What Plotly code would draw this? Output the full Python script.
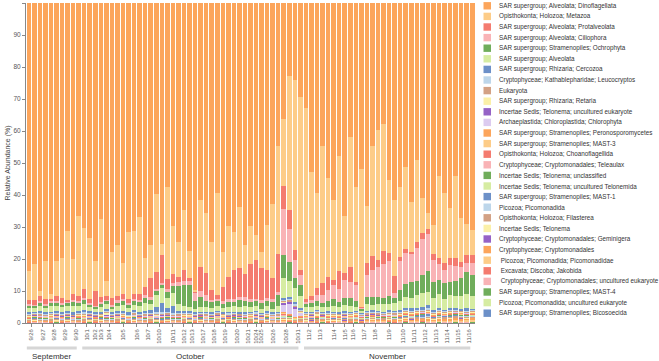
import plotly.graph_objects as go

# ---------------- data ----------------
dates = ["9/26", "9/27", "9/28", "9/29", "9/30", "10/1", "10/2", "10/3", "10/4", "10/5",
         "10/6", "10/7", "10/10", "10/11", "10/12", "10/13", "10/17", "10/18", "10/19", "10/20",
         "10/21", "10/24", "10/25", "10/26", "10/28", "10/31", "11/2", "11/3", "11/4", "11/5",
         "11/6", "11/7", "11/8", "11/9", "11/10", "11/11", "11/12", "11/13", "11/14", "11/15", "11/16"]
bars_per_date = [2, 2, 2, 2, 2, 2, 1, 1, 2, 3,
                 2, 2, 2, 3, 1, 2, 2, 2, 2, 2,
                 2, 1, 1, 3, 2, 2, 2, 2, 3, 1,
                 2, 2, 2, 3, 2, 2, 2, 2, 2, 2, 2]
month_names = {"9": "September", "10": "October", "11": "November"}

taxa = [
    "SAR supergroup; Alveolata; Dinoflagellata",
    "Opisthokonta; Holozoa; Metazoa",
    "SAR supergroup; Alveolata; Protalveolata",
    "SAR supergroup; Alveolata; Ciliophora",
    "SAR supergroup; Stramenopiles; Ochrophyta",
    "SAR supergroup; Alveolata",
    "SAR supergroup; Rhizaria; Cercozoa",
    "Cryptophyceae; Kathablepharidae; Leucocryptos",
    "Eukaryota",
    "SAR supergroup; Rhizaria; Retaria",
    "Incertae Sedis; Telonema; uncultured eukaryote",
    "Archaeplastida; Chloroplastida; Chlorophyta",
    "SAR supergroup; Stramenopiles; Peronosporomycetes",
    "SAR supergroup; Stramenopiles; MAST-3",
    "Opisthokonta; Holozoa; Choanoflagellida",
    "Cryptophyceae; Cryptomonadales; Teleaulax",
    "Incertae Sedis; Telonema; unclassified",
    "Incertae Sedis; Telonema; uncultured Telonemida",
    "SAR supergroup; Stramenopiles; MAST-1",
    "Picozoa; Picomonadida",
    "Opisthokonta; Holozoa; Filasterea",
    "Incertae Sedis; Telonema",
    "Cryptophyceae; Cryptomonadales; Geminigera",
    "Cryptophyceae; Cryptomonadales",
    "\u00a0Picozoa; Picomonadida; Picomonadidae",
    "\u00a0Excavata; Discoba; Jakobida",
    "\u00a0Cryptophyceae; Cryptomonadales; uncultured eukaryote",
    "SAR supergroup; Stramenopiles; MAST-4",
    "Picozoa; Picomonadida; uncultured eukaryote",
    "SAR supergroup; Stramenopiles; Bicosoecida",
]

dinoflagellata = [84, 82, 90.5, 81, 92, 81, 80, 72, 80, 67,
                  71, 74, 81, 68, 88, 78, 76, 82, 72, 72,
                  67, 80, 76, 60, 76, 58, 70, 75, 65, 78,
                  90, 62, 66, 75, 60, 78, 70, 72, 64, 76,
                  70, 73, 78, 70, 63, 45, 38, 24, 25, 30,
                  33, 53, 60, 45, 55, 62, 48, 67, 42, 58,
                  52, 64, 45, 40, 38, 56, 62, 58, 52, 63,
                  50, 62, 67, 70, 55, 60, 65, 55, 68, 70,
                  72]
metazoa = [9, 11.5, 1.5, 12, 1.5, 11, 12.5, 21.5, 11, 25,
           19, 19, 9.5, 24.5, 5, 14.5, 16, 10, 21, 20,
           24, 9, 10.5, 24.5, 3.5, 29, 15, 11, 19, 8.5,
           0.5, 21, 19, 15, 32, 11, 16, 12, 19, 9,
           12, 8, 5, 14, 23, 34, 22, 44, 55, 55,
           60, 39, 30, 43, 31, 25, 36, 18, 41, 30,
           43.5, 18, 35, 41, 40, 23, 24, 22, 26, 16,
           26, 11, 5, 9, 26, 22, 16, 26, 14, 10,
           8]
protalveolata = [1.2, 1.3, 1.6, 1.4, 0.5, 1.8, 1.7, 0.6, 1.9, 1.8,
                 2.8, 1.3, 4.5, 1.5, 1.0, 2.2, 1.5, 1.5, 1.2, 1.6,
                 2.0, 2.6, 6.1, 5.6, 8.7, 3.2, 2.7, 1.6, 3.2, 1.0,
                 0.3, 7.4, 6.9, 3.0, 1.2, 4.6, 7.1, 9.1, 9.1, 7.3,
                 11.1, 12.1, 10.0, 8.9, 6.7, 11.7, 7.7, 6.3, 3.1, 1.6,
                 0.9, 1.3, 2.3, 3.7, 4.3, 1.7, 5.8, 2.2, 4.7, 1.0,
                 0.2, 3.7, 4.2, 2.2, 4.2, 2.5, 5.5, 1.4, 1.3, 0.5,
                 1.7, 1.9, 1.6, 2.0, 1.9, 2.4, 2.2, 2.7, 1.7, 2.3,
                 2.4]
ciliophora = [0.4, 0.3, 0.5, 0.4, 0.6, 0.3, 0.5, 0.4, 0.7, 0.5,
              0.6, 0.4, 0.3, 0.5, 0.4, 0.3, 0.6, 0.5, 0.4, 0.7,
              0.5, 0.8, 0.6, 0.5, 0.7, 0.9, 1.0, 1.2, 1.5, 1.0,
              2.5, 2.0, 1.8, 0.8, 0.6, 0.7, 0.9, 0.8, 1.2, 1.0,
              0.8, 0.7, 0.9, 0.8, 1.0, 1.2, 15.0, 11.0, 6.0, 3.0,
              0.6, 1.0, 2.0, 2.5, 3.5, 4.5, 4.0, 5.5, 5.0, 5.0,
              0.3, 7.0, 8.5, 9.5, 10.5, 11.0, 1.5, 9.0, 10.0, 9.0,
              10.5, 11.5, 12.0, 7.0, 5.0, 4.0, 5.5, 4.5, 3.5, 3.0,
              4.0]
ochrophyta = [0.9, 0.7, 1.1, 0.8, 1.0, 1.2, 0.8, 1.0, 1.3, 1.1,
              1.5, 0.9, 0.7, 1.2, 1.0, 0.8, 1.1, 1.4, 1.0, 1.2,
              1.3, 1.6, 1.5, 1.2, 1.0, 1.8, 2.2, 5.5, 6.5, 7.0,
              2.5, 3.0, 2.0, 1.8, 1.5, 1.3, 1.6, 1.4, 2.0, 1.8,
              1.7, 1.5, 1.8, 1.6, 2.0, 3.5, 7.5, 6.0, 3.0, 3.5,
              1.0, 1.2, 1.5, 1.3, 1.8, 2.0, 1.6, 2.2, 2.5, 1.8,
              0.5, 2.2, 2.5, 2.0, 1.8, 2.5, 1.5, 3.5, 4.0, 5.0,
              4.5, 5.5, 6.5, 5.0, 4.5, 5.0, 4.0, 4.8, 5.5, 7.0,
              6.5]
alveolata = [1.4, 1.2, 1.6, 1.3, 1.8, 1.5, 1.4, 1.7, 1.9, 1.5,
             1.8, 1.3, 1.0, 1.4, 1.6, 1.2, 1.5, 1.8, 1.4, 1.6,
             1.9, 2.5, 2.0, 4.0, 4.8, 3.2, 4.2, 2.2, 1.6, 1.4,
             1.2, 1.5, 1.3, 1.2, 1.6, 1.4, 1.3, 1.7, 1.5, 1.8,
             1.4, 1.6, 1.3, 1.5, 1.2, 1.6, 6.5, 5.5, 4.5, 3.8,
             1.5, 1.4, 1.2, 1.5, 1.3, 1.8, 1.6, 2.0, 1.8, 1.2,
             0.8, 2.0, 1.8, 2.2, 2.5, 2.0, 2.4, 3.0, 3.5, 3.2,
             4.0, 4.5, 4.2, 3.8, 4.5, 3.5, 4.0, 3.8, 4.2, 4.5,
             4.0]
cercozoa = [0.4, 0.3, 0.5, 0.4, 0.3, 0.5, 0.4, 0.3, 0.5, 0.4,
            0.6, 0.4, 0.3, 0.5, 0.4, 0.3, 0.5, 0.4, 0.6, 0.5,
            0.4, 0.8, 0.6, 1.5, 2.6, 1.2, 2.2, 0.8, 0.5, 0.4,
            0.3, 0.4, 0.3, 0.5, 0.4, 0.3, 0.4, 0.3, 0.5, 0.4,
            0.3, 0.4, 0.3, 0.5, 0.4, 0.3, 0.6, 0.5, 0.7, 0.4,
            0.3, 0.4, 0.3, 0.3, 0.4, 0.3, 0.3, 0.4, 0.3, 0.3,
            0.3, 0.4, 0.3, 0.4, 0.3, 0.3, 0.4, 0.4, 0.5, 0.8,
            0.6, 0.9, 1.0, 0.5, 0.4, 0.4, 0.6, 0.5, 0.4, 0.5,
            0.4]
leucocryptos = [0.3, 0.2, 0.4, 0.3, 0.3, 0.2, 0.4, 0.3, 0.2, 0.3,
                0.4, 0.3, 0.3, 0.2, 0.4, 0.2, 0.3, 0.4, 0.3, 0.3,
                0.3, 0.2, 0.4, 0.3, 0.5, 0.3, 0.4, 0.2, 0.3, 0.2,
                0.3, 0.2, 0.4, 0.3, 0.3, 0.2, 0.4, 0.3, 0.2, 0.3,
                0.2, 0.4, 0.3, 0.3, 0.2, 0.4, 0.3, 0.3, 0.5, 0.4,
                0.3, 0.2, 0.3, 0.2, 0.4, 0.3, 0.2, 0.3, 0.4, 0.3,
                0.2, 0.3, 0.4, 0.3, 0.2, 0.4, 0.3, 0.3, 0.4, 0.3,
                0.3, 0.2, 0.4, 0.3, 0.4, 0.3, 0.3, 0.4, 0.2, 0.3,
                0.3]
eukaryota = [0.4, 0.3, 0.4, 0.3, 0.4, 0.3, 0.4, 0.3, 0.3, 0.4,
             0.4, 0.3, 0.4, 0.3, 0.4, 0.3, 0.4, 0.3, 0.3, 0.4,
             0.3, 0.4, 0.3, 0.4, 0.3, 0.4, 0.3, 0.4, 0.3, 0.4,
             0.3, 0.3, 0.4, 0.3, 0.4, 0.3, 0.4, 0.3, 0.4, 0.3,
             0.4, 0.3, 0.3, 0.4, 0.3, 0.4, 0.3, 0.4, 0.3, 0.4,
             0.4, 0.3, 0.4, 0.3, 0.3, 0.4, 0.3, 0.4, 0.3, 0.4,
             0.3, 0.4, 0.3, 0.4, 0.3, 0.4, 0.4, 0.3, 0.4, 0.3,
             0.4, 0.3, 0.4, 0.3, 0.4, 0.3, 0.4, 0.3, 0.3, 0.4,
             0.4]
retaria = [0.1, 0.2, 0.1, 0.2, 0.1, 0.2, 0.1, 0.2, 0.1, 0.2,
           0.2, 0.1, 0.2, 0.1, 0.8, 0.2, 0.1, 0.2, 0.1, 0.1,
           0.1, 0.2, 0.1, 0.2, 0.1, 0.2, 0.1, 0.2, 0.1, 0.2,
           0.2, 0.1, 0.2, 0.1, 0.2, 0.1, 0.2, 0.1, 0.2, 0.1,
           0.1, 0.2, 0.1, 0.2, 0.1, 0.2, 0.3, 0.2, 0.1, 0.2,
           0.2, 0.1, 0.6, 0.1, 0.2, 0.1, 0.2, 0.1, 0.2, 0.1,
           0.1, 0.2, 0.1, 0.2, 0.1, 0.2, 0.1, 0.2, 0.1, 0.2,
           0.2, 0.1, 0.2, 0.1, 0.2, 0.1, 0.2, 0.1, 0.2, 0.1,
           0.1]
telonema_unc_euk = [0.1, 0.1, 0.2, 0.1, 0.1, 0.1, 0.2, 0.1, 0.1, 0.1,
                    0.1, 0.2, 0.1, 0.1, 0.1, 0.2, 0.1, 0.1, 0.1, 0.1,
                    0.2, 0.1, 0.1, 0.1, 0.3, 0.1, 0.1, 0.1, 0.1, 0.1,
                    0.1, 0.1, 0.1, 0.2, 0.1, 0.1, 0.1, 0.1, 0.2, 0.1,
                    0.1, 0.1, 0.1, 0.1, 0.1, 0.1, 0.8, 0.6, 0.5, 0.2,
                    0.1, 0.1, 0.1, 0.1, 0.1, 0.1, 0.1, 0.1, 0.1, 0.1,
                    0.1, 0.1, 0.1, 0.1, 0.1, 0.1, 0.1, 0.1, 0.1, 0.1,
                    0.1, 0.1, 0.1, 0.1, 0.1, 0.1, 0.1, 0.1, 0.1, 0.1,
                    0.1]
chlorophyta = [0.1, 0.1, 0.1, 0.1, 0.1, 0.1, 0.1, 0.1, 0.1, 0.1,
               0.1, 0.1, 0.1, 0.1, 0.1, 0.1, 0.1, 0.1, 0.1, 0.1,
               0.1, 0.1, 0.1, 0.2, 0.2, 0.1, 0.1, 0.1, 0.1, 0.1,
               0.1, 0.1, 0.1, 0.1, 0.1, 0.1, 0.1, 0.1, 0.1, 0.1,
               0.1, 0.1, 0.1, 0.1, 0.1, 0.2, 2.5, 3.5, 3.0, 1.0,
               0.1, 0.1, 0.1, 0.1, 0.1, 0.1, 0.1, 0.1, 0.1, 0.1,
               0.1, 0.1, 0.1, 0.1, 0.1, 0.1, 0.1, 0.1, 0.1, 0.1,
               0.1, 0.1, 0.1, 0.1, 0.1, 0.1, 0.1, 0.1, 0.1, 0.1,
               0.1]
peronosporomycetes = [0.1, 0.2, 0.1, 0.1, 0.1, 0.2, 0.1, 0.1, 0.1, 0.2,
                      0.1, 0.1, 0.2, 0.1, 0.1, 0.1, 0.2, 0.1, 0.1, 0.1,
                      0.2, 0.1, 0.1, 0.1, 0.2, 0.1, 0.1, 0.1, 0.2, 0.1,
                      0.1, 0.1, 0.2, 0.1, 0.1, 0.1, 0.2, 0.1, 0.1, 0.1,
                      0.2, 0.1, 0.1, 0.1, 0.2, 0.1, 0.2, 0.1, 0.1, 0.1,
                      0.1, 0.2, 0.1, 0.1, 0.1, 0.2, 0.1, 0.1, 0.1, 0.2,
                      0.1, 0.1, 0.2, 0.1, 0.1, 0.1, 0.2, 0.1, 0.1, 0.1,
                      0.2, 0.1, 0.1, 0.1, 0.2, 0.1, 0.1, 0.1, 0.2, 0.1,
                      0.1]
mast3 = [0.1, 0.1, 0.1, 0.2, 0.1, 0.1, 0.1, 0.1, 0.2, 0.1,
         0.1, 0.1, 0.1, 0.1, 0.2, 0.1, 0.1, 0.1, 0.1, 0.2,
         0.1, 0.1, 0.1, 0.1, 0.1, 0.2, 0.1, 0.1, 0.1, 0.1,
         0.2, 0.1, 0.1, 0.1, 0.1, 0.2, 0.1, 0.1, 0.1, 0.1,
         0.1, 0.2, 0.1, 0.1, 0.1, 0.1, 0.2, 0.1, 0.1, 0.1,
         0.1, 0.1, 0.2, 0.1, 0.1, 0.1, 0.1, 0.2, 0.1, 0.1,
         0.1, 0.1, 0.1, 0.2, 0.1, 0.1, 0.1, 0.1, 0.2, 0.1,
         0.1, 0.1, 0.1, 0.2, 0.1, 0.1, 0.1, 0.1, 0.2, 0.1,
         0.1]
choanoflagellida = [0.2, 0.1, 0.2, 0.1, 0.2, 0.2, 0.1, 0.2, 0.1, 0.2,
                    0.1, 0.2, 0.2, 0.1, 0.2, 0.1, 0.2, 0.2, 0.1, 0.2,
                    0.1, 0.2, 0.2, 0.1, 0.2, 0.1, 0.2, 0.2, 0.1, 0.2,
                    0.1, 0.2, 0.2, 0.1, 0.2, 0.1, 0.2, 0.2, 0.1, 0.2,
                    0.1, 0.2, 0.2, 0.1, 0.2, 0.1, 0.2, 0.2, 0.1, 0.2,
                    0.1, 0.2, 0.2, 0.1, 0.2, 0.1, 0.2, 0.2, 0.1, 0.2,
                    0.1, 0.2, 0.2, 0.1, 0.2, 0.1, 0.2, 0.2, 0.1, 0.2,
                    0.1, 0.2, 0.2, 0.1, 0.2, 0.1, 0.2, 0.2, 0.1, 0.2,
                    0.2]
teleaulax = [0.1, 0.1, 0.1, 0.1, 0.2, 0.1, 0.1, 0.1, 0.1, 0.1,
             0.2, 0.1, 0.1, 0.1, 0.1, 0.1, 0.2, 0.1, 0.1, 0.1,
             0.1, 0.1, 0.2, 0.1, 0.1, 0.1, 0.1, 0.1, 0.2, 0.1,
             0.1, 0.1, 0.1, 0.1, 0.2, 0.1, 0.1, 0.1, 0.1, 0.1,
             0.2, 0.1, 0.1, 0.1, 0.1, 0.1, 0.3, 0.2, 0.1, 0.1,
             0.1, 0.1, 0.2, 0.1, 0.1, 0.1, 0.1, 0.1, 0.2, 0.1,
             0.1, 0.1, 0.1, 0.1, 0.2, 0.1, 0.1, 0.1, 0.1, 0.1,
             0.2, 0.1, 0.1, 0.1, 0.1, 0.1, 0.2, 0.1, 0.1, 0.1,
             0.1]
telonema_unclassified = [0.1, 0.1, 0.1, 0.1, 0.1, 0.1, 0.1, 0.1, 0.1, 0.1,
                         0.1, 0.1, 0.1, 0.1, 0.1, 0.1, 0.1, 0.1, 0.1, 0.1,
                         0.1, 0.1, 0.1, 0.1, 0.1, 0.1, 0.1, 0.1, 0.1, 0.1,
                         0.1, 0.1, 0.1, 0.1, 0.1, 0.1, 0.1, 0.1, 0.1, 0.1,
                         0.1, 0.1, 0.1, 0.1, 0.1, 0.1, 0.2, 0.2, 0.1, 0.1,
                         0.1, 0.1, 0.1, 0.1, 0.1, 0.1, 0.1, 0.1, 0.1, 0.1,
                         0.1, 0.1, 0.1, 0.1, 0.1, 0.1, 0.1, 0.1, 0.1, 0.1,
                         0.1, 0.1, 0.1, 0.1, 0.1, 0.1, 0.1, 0.1, 0.1, 0.1,
                         0.1]
uncultured_telonemida = [0.1, 0.2, 0.1, 0.1, 0.2, 0.1, 0.1, 0.2, 0.1, 0.1,
                         0.2, 0.1, 0.1, 0.2, 0.1, 0.1, 0.2, 0.1, 0.1, 0.2,
                         0.1, 0.1, 0.2, 0.1, 0.1, 0.2, 0.1, 0.1, 0.2, 0.1,
                         0.1, 0.2, 0.1, 0.1, 0.2, 0.1, 0.1, 0.2, 0.1, 0.1,
                         0.2, 0.1, 0.1, 0.2, 0.1, 0.1, 0.3, 0.2, 0.1, 0.1,
                         0.2, 0.1, 0.1, 0.2, 0.1, 0.1, 0.2, 0.1, 0.1, 0.2,
                         0.1, 0.1, 0.2, 0.1, 0.1, 0.2, 0.1, 0.1, 0.2, 0.1,
                         0.1, 0.2, 0.1, 0.1, 0.2, 0.1, 0.1, 0.2, 0.1, 0.1,
                         0.2]
mast1 = [0.0, 0.1, 0.0, 0.1, 0.0, 0.1, 0.0, 0.1, 0.0, 0.1,
         0.0, 0.1, 0.0, 0.1, 0.0, 0.1, 0.0, 0.1, 0.0, 0.1,
         0.0, 0.1, 0.0, 0.1, 0.2, 0.1, 0.0, 0.1, 0.0, 0.1,
         0.0, 0.1, 0.0, 0.1, 0.0, 0.1, 0.0, 0.1, 0.0, 0.1,
         0.0, 0.1, 0.0, 0.1, 0.0, 0.1, 0.1, 0.1, 0.0, 0.1,
         0.0, 0.1, 0.0, 0.1, 0.0, 0.1, 0.0, 0.1, 0.0, 0.1,
         0.0, 0.1, 0.0, 0.1, 0.0, 0.1, 0.0, 0.1, 0.2, 0.3,
         0.2, 0.6, 0.7, 0.1, 0.0, 0.1, 0.2, 0.1, 0.0, 0.1,
         0.1]
picomonadida = [0.1, 0.1, 0.2, 0.1, 0.1, 0.1, 0.2, 0.1, 0.1, 0.1,
                0.2, 0.1, 0.1, 0.1, 0.2, 0.1, 0.1, 0.1, 0.2, 0.1,
                0.1, 0.1, 0.2, 0.1, 0.1, 0.1, 0.2, 0.1, 0.1, 0.1,
                0.2, 0.1, 0.1, 0.1, 0.2, 0.1, 0.1, 0.1, 0.2, 0.1,
                0.1, 0.1, 0.2, 0.1, 0.1, 0.1, 0.2, 0.1, 0.1, 0.1,
                0.2, 0.1, 0.1, 0.1, 0.2, 0.1, 0.1, 0.1, 0.2, 0.1,
                0.1, 0.1, 0.2, 0.1, 0.1, 0.1, 0.2, 0.1, 0.1, 0.1,
                0.2, 0.1, 0.1, 0.1, 0.2, 0.1, 0.1, 0.1, 0.2, 0.1,
                0.1]
filasterea = [0.3, 0.4, 0.3, 0.3, 0.4, 0.3, 0.3, 0.4, 0.3, 0.3,
              0.4, 0.3, 0.3, 0.4, 0.3, 0.3, 0.4, 0.3, 0.3, 0.4,
              0.3, 0.3, 0.4, 0.3, 0.3, 0.4, 0.3, 0.3, 0.4, 0.3,
              0.3, 0.4, 0.3, 0.3, 0.4, 0.3, 0.3, 0.4, 0.3, 0.3,
              0.4, 0.3, 0.3, 0.4, 0.3, 0.3, 0.4, 0.3, 0.3, 0.4,
              0.3, 0.3, 0.4, 0.3, 0.3, 0.4, 0.3, 0.3, 0.4, 0.3,
              0.3, 0.4, 0.3, 0.3, 0.4, 0.3, 0.3, 0.4, 0.5, 0.4,
              0.5, 0.4, 0.5, 0.4, 0.5, 0.6, 0.5, 0.6, 0.5, 0.6,
              0.5]
telonema = [0.1, 0.1, 0.1, 0.1, 0.1, 0.2, 0.1, 0.1, 0.1, 0.1,
            0.1, 0.2, 0.1, 0.1, 0.1, 0.1, 0.1, 0.2, 0.1, 0.1,
            0.1, 0.1, 0.1, 0.2, 0.1, 0.1, 0.1, 0.1, 0.1, 0.2,
            0.1, 0.1, 0.1, 0.1, 0.1, 0.2, 0.1, 0.1, 0.1, 0.1,
            0.1, 0.2, 0.1, 0.1, 0.1, 0.1, 0.1, 0.2, 0.1, 0.1,
            0.1, 0.1, 0.1, 0.2, 0.1, 0.1, 0.1, 0.1, 0.1, 0.2,
            0.1, 0.1, 0.1, 0.1, 0.1, 0.2, 0.1, 0.1, 0.1, 0.1,
            0.1, 0.2, 0.1, 0.1, 0.1, 0.1, 0.1, 0.2, 0.1, 0.1,
            0.1]
geminigera = [0.0, 0.1, 0.0, 0.0, 0.1, 0.0, 0.0, 0.1, 0.0, 0.0,
              0.1, 0.0, 0.0, 0.1, 0.0, 0.0, 0.1, 0.0, 0.0, 0.1,
              0.0, 0.0, 0.1, 0.0, 0.0, 0.1, 0.0, 0.0, 0.1, 0.0,
              0.0, 0.1, 0.0, 0.0, 0.1, 0.0, 0.0, 0.1, 0.0, 0.0,
              0.1, 0.0, 0.0, 0.1, 0.0, 0.0, 0.3, 0.2, 0.0, 0.0,
              0.0, 0.1, 0.0, 0.0, 0.1, 0.0, 0.0, 0.1, 0.0, 0.0,
              0.1, 0.0, 0.0, 0.1, 0.0, 0.0, 0.1, 0.0, 0.0, 0.1,
              0.0, 0.0, 0.1, 0.0, 0.0, 0.1, 0.0, 0.0, 0.1, 0.0,
              0.0]
cryptomonadales = [0.1, 0.2, 0.1, 0.2, 0.1, 0.2, 0.1, 0.2, 0.1, 0.2,
                   0.1, 0.2, 0.1, 0.2, 0.1, 0.2, 0.1, 0.2, 0.1, 0.2,
                   0.1, 0.2, 0.1, 0.2, 0.1, 0.2, 0.1, 0.2, 0.1, 0.2,
                   0.1, 0.2, 0.1, 0.2, 0.1, 0.2, 0.1, 0.2, 0.1, 0.2,
                   0.1, 0.2, 0.1, 0.2, 0.1, 0.2, 0.2, 0.2, 0.1, 0.2,
                   0.2, 0.3, 0.2, 0.3, 0.2, 0.3, 0.2, 0.3, 0.2, 0.3,
                   0.3, 0.3, 0.4, 0.3, 0.4, 0.3, 0.4, 0.4, 0.5, 0.4,
                   0.5, 0.4, 0.5, 0.5, 0.6, 0.5, 0.6, 0.7, 0.6, 0.7,
                   0.6]
picomonadidae = [0.2, 0.1, 0.2, 0.1, 0.2, 0.1, 0.2, 0.1, 0.2, 0.1,
                 0.2, 0.1, 0.2, 0.1, 0.2, 0.1, 0.2, 0.1, 0.2, 0.1,
                 0.2, 0.1, 0.2, 0.1, 0.2, 0.1, 0.2, 0.1, 0.2, 0.1,
                 0.2, 0.1, 0.2, 0.1, 0.2, 0.1, 0.2, 0.1, 0.2, 0.1,
                 0.2, 0.1, 0.2, 0.1, 0.2, 0.1, 0.2, 0.1, 0.2, 0.1,
                 0.2, 0.1, 0.2, 0.1, 0.2, 0.1, 0.2, 0.1, 0.2, 0.1,
                 0.2, 0.1, 0.2, 0.1, 0.2, 0.1, 0.2, 0.2, 0.3, 0.2,
                 0.3, 0.2, 0.3, 0.2, 0.3, 0.3, 0.4, 0.3, 0.4, 0.3,
                 0.4]
jakobida = [0.1, 0.1, 0.1, 0.1, 0.1, 0.1, 0.1, 0.1, 0.1, 0.1,
            0.1, 0.1, 0.1, 0.1, 0.1, 0.1, 0.1, 0.1, 0.1, 0.1,
            0.1, 0.1, 0.1, 0.1, 0.1, 0.1, 0.1, 0.1, 0.1, 0.1,
            0.1, 0.1, 0.1, 0.1, 0.1, 0.1, 0.1, 0.1, 0.1, 0.1,
            0.1, 0.1, 0.1, 0.1, 0.1, 0.1, 0.1, 0.1, 0.1, 0.1,
            0.1, 0.1, 0.1, 0.1, 0.1, 0.1, 0.1, 0.1, 0.1, 0.1,
            0.1, 0.1, 0.1, 0.1, 0.1, 0.1, 0.1, 0.1, 0.1, 0.1,
            0.1, 0.1, 0.1, 0.1, 0.1, 0.1, 0.1, 0.1, 0.1, 0.1,
            0.1]
cryptomonadales_unc_euk = [0.1, 0.1, 0.1, 0.1, 0.1, 0.1, 0.1, 0.1, 0.1, 0.1,
                           0.1, 0.1, 0.1, 0.1, 0.1, 0.1, 0.1, 0.1, 0.1, 0.1,
                           0.1, 0.1, 0.1, 0.1, 0.1, 0.1, 0.1, 0.1, 0.1, 0.1,
                           0.1, 0.1, 0.1, 0.1, 0.1, 0.1, 0.1, 0.1, 0.1, 0.1,
                           0.1, 0.1, 0.1, 0.1, 0.1, 0.1, 0.2, 0.2, 0.1, 0.1,
                           0.1, 0.1, 0.1, 0.1, 0.1, 0.1, 0.1, 0.1, 0.1, 0.1,
                           0.1, 0.2, 0.2, 0.2, 0.2, 0.2, 0.1, 0.2, 0.2, 0.2,
                           0.2, 0.2, 0.2, 0.1, 0.1, 0.1, 0.1, 0.1, 0.1, 0.1,
                           0.1]
mast4 = [0.1, 0.2, 0.1, 0.2, 0.1, 0.2, 0.1, 0.2, 0.1, 0.2,
         0.1, 0.2, 0.1, 0.2, 0.1, 0.2, 0.1, 0.2, 0.1, 0.2,
         0.1, 0.2, 0.1, 0.2, 0.1, 0.2, 0.1, 0.2, 0.1, 0.2,
         0.1, 0.2, 0.1, 0.2, 0.1, 0.2, 0.1, 0.2, 0.1, 0.2,
         0.1, 0.2, 0.1, 0.2, 0.1, 0.2, 0.2, 0.2, 0.1, 0.2,
         0.1, 0.2, 0.1, 0.2, 0.1, 0.2, 0.1, 0.2, 0.1, 0.2,
         0.1, 0.2, 0.1, 0.2, 0.1, 0.2, 0.1, 0.2, 0.2, 0.2,
         0.2, 0.2, 0.2, 0.2, 0.2, 0.2, 0.2, 0.2, 0.2, 0.2,
         0.2]
picomonadida_unc_euk = [0.1, 0.1, 0.1, 0.1, 0.1, 0.1, 0.1, 0.1, 0.1, 0.1,
                        0.1, 0.1, 0.1, 0.1, 0.1, 0.1, 0.1, 0.1, 0.1, 0.1,
                        0.1, 0.1, 0.1, 0.1, 0.1, 0.1, 0.1, 0.1, 0.1, 0.1,
                        0.1, 0.1, 0.1, 0.1, 0.1, 0.1, 0.1, 0.1, 0.1, 0.1,
                        0.1, 0.1, 0.1, 0.1, 0.1, 0.1, 0.1, 0.1, 0.1, 0.1,
                        0.1, 0.1, 0.1, 0.1, 0.1, 0.1, 0.1, 0.1, 0.1, 0.1,
                        0.1, 0.1, 0.1, 0.1, 0.1, 0.1, 0.1, 0.1, 0.1, 0.1,
                        0.1, 0.1, 0.1, 0.1, 0.1, 0.1, 0.1, 0.1, 0.1, 0.1,
                        0.1]
bicosoecida = [0.0, 0.0, 0.1, 0.0, 0.0, 0.1, 0.0, 0.0, 0.1, 0.0,
               0.0, 0.1, 0.0, 0.0, 0.1, 0.0, 0.0, 0.1, 0.0, 0.0,
               0.1, 0.0, 0.0, 0.1, 0.0, 0.0, 0.1, 0.0, 0.0, 0.1,
               0.0, 0.0, 0.1, 0.0, 0.0, 0.1, 0.0, 0.0, 0.1, 0.0,
               0.0, 0.1, 0.0, 0.0, 0.1, 0.0, 0.0, 0.1, 0.0, 0.0,
               0.1, 0.0, 0.0, 0.1, 0.0, 0.0, 0.1, 0.0, 0.0, 0.1,
               0.0, 0.0, 0.1, 0.0, 0.0, 0.1, 0.0, 0.0, 0.1, 0.0,
               0.0, 0.1, 0.0, 0.0, 0.1, 0.0, 0.0, 0.1, 0.0, 0.0,
               0.1]

values = [dinoflagellata, metazoa, protalveolata, ciliophora, ochrophyta, alveolata,
          cercozoa, leucocryptos, eukaryota, retaria, telonema_unc_euk, chlorophyta,
          peronosporomycetes, mast3, choanoflagellida, teleaulax, telonema_unclassified,
          uncultured_telonemida, mast1, picomonadida, filasterea, telonema, geminigera,
          cryptomonadales, picomonadidae, jakobida, cryptomonadales_unc_euk, mast4,
          picomonadida_unc_euk, bicosoecida]

# ---------------- style ----------------
ORANGE, LORANGE, SALMON, PINK = "#fca55b", "#fdcc88", "#f47b6f", "#f9b3b6"
GREEN, LGREEN, BLUE, LBLUE = "#70ad5b", "#d6eca2", "#6c90c8", "#bdd6ea"
TAN, LYELLOW, PURPLE, LAVENDER = "#d3a184", "#fbf0a8", "#9562c6", "#dccbf0"
colors = [ORANGE, LORANGE, SALMON, PINK, GREEN, LGREEN, BLUE, LBLUE, TAN, LYELLOW, PURPLE, LAVENDER,
          ORANGE, LORANGE, SALMON, PINK, GREEN, LGREEN, BLUE, LBLUE, TAN, LYELLOW, PURPLE,
          ORANGE, LORANGE, SALMON, PINK, GREEN, LGREEN, BLUE]

W, H = 659, 361
PL, PR, PT, PB = 26, 475, 3, 323          # plot area in pixels
FONT = "Liberation Sans, Arial, sans-serif"

n_bars = sum(bars_per_date)
x_idx = list(range(n_bars))
tick_pos, date_of_bar, start = [], [], 0
for d, size in zip(dates, bars_per_date):
    tick_pos.append(start + (size - 1) / 2)
    date_of_bar += [d] * size
    start += size

fig = go.Figure()
for name, col, vals in reversed(list(zip(taxa, colors, values))):
    fig.add_trace(go.Bar(x=x_idx, y=vals, name=name.strip("\u00a0"),
                         marker=dict(color=col, line=dict(width=0)),
                         customdata=date_of_bar, showlegend=False,
                         hovertemplate="%{customdata}<br>%{fullData.name}: %{y:.1f}%<extra></extra>"))

def px_to_paper_x(px):
    return (px - PL) / (PR - PL)

def px_to_paper_y(py):
    return (PB - py) / (PB - PT)

shapes, annotations = [], []

# month brackets
months = []
for i, d in enumerate(date_of_bar):
    m = d.split("/")[0]
    if not months or months[-1][0] != m:
        months.append([m, i, i])
    else:
        months[-1][2] = i
for m, i0, i1 in months:
    x0, x1 = i0 - 0.5 + 0.15, i1 + 0.5 - 0.85
    shapes.append(dict(type="line", xref="x", yref="paper", x0=x0, x1=x1,
                       y0=px_to_paper_y(348), y1=px_to_paper_y(348),
                       line=dict(color="#d6d6d6", width=3)))
    annotations.append(dict(x=(x0 + x1) / 2, y=px_to_paper_y(356.5), xref="x", yref="paper",
                            text=month_names[m], showarrow=False, xanchor="center", yanchor="middle",
                            font=dict(size=8, color="#333333", family=FONT)))

# custom legend
for k, (name, col) in enumerate(zip(taxa, colors)):
    yc = 5.8 + 10.6 * k
    shapes.append(dict(type="rect", xref="paper", yref="paper",
                       x0=px_to_paper_x(483.5), x1=px_to_paper_x(491),
                       y0=px_to_paper_y(yc + 3.7), y1=px_to_paper_y(yc - 3.7),
                       fillcolor=col, line=dict(width=0)))
    annotations.append(dict(x=px_to_paper_x(496.5), y=px_to_paper_y(yc), xref="paper", yref="paper",
                            text=name, showarrow=False, xanchor="left", yanchor="middle",
                            font=dict(size=6.3, color="#333333", family=FONT)))

fig.update_layout(
    width=W, height=H,
    margin=dict(l=PL, r=W - PR, t=PT, b=H - PB, pad=0),
    barmode="stack", barnorm="percent", bargap=0.18,
    plot_bgcolor="white", paper_bgcolor="white",
    font=dict(family=FONT, size=7, color="#555555"),
    shapes=shapes, annotations=annotations,
    showlegend=False,
    xaxis=dict(range=[-0.5, n_bars - 0.5], tickmode="array", tickvals=tick_pos, ticktext=dates,
               tickangle=-90, ticks="outside", ticklen=3, tickwidth=1, tickcolor="#888888",
               tickfont=dict(size=5.8, color="#555555", family=FONT),
               showline=True, linecolor="#888888", linewidth=1, showgrid=False, zeroline=False,
               automargin=False),
    yaxis=dict(range=[0, 100], tickmode="array", tickvals=list(range(0, 101, 10)),
               ticks="outside", ticklen=3, tickwidth=1, tickcolor="#888888",
               tickfont=dict(size=6.5, color="#555555", family=FONT),
               title=dict(text="Relative Abundance (%)", font=dict(size=7, color="#444444", family=FONT),
                          standoff=2),
               showline=True, linecolor="#888888", linewidth=1, showgrid=False, zeroline=False,
               automargin=False),
)

fig.write_html("out.html", config={"displayModeBar": False},
               post_script="document.body.style.margin='0px';document.body.style.overflow='hidden';")
